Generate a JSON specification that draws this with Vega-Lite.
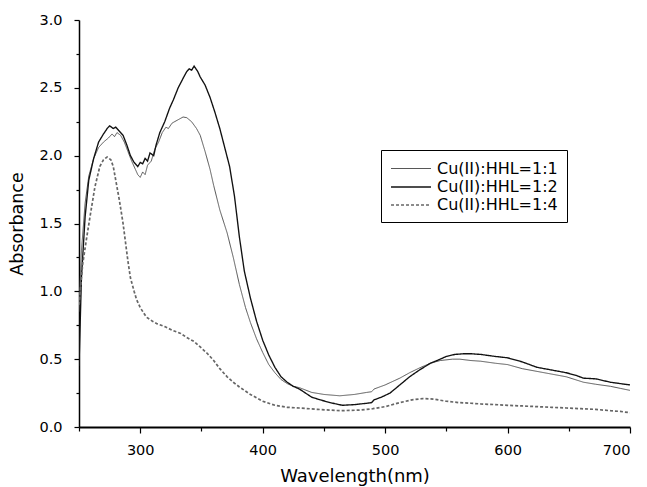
{
  "$schema": "https://vega.github.io/schema/vega-lite/v6.json",
  "width": 551,
  "height": 407,
  "autosize": "none",
  "padding": {"left": 79, "top": 20, "right": 17, "bottom": 60},
  "background": "white",
  "config": {
    "view": {"stroke": null},
    "axis": {
      "grid": false,
      "domainColor": "black",
      "domainWidth": 1.5,
      "tickColor": "black",
      "tickWidth": 1.2,
      "labelFont": "DejaVu Sans",
      "labelFontSize": 14.5,
      "labelColor": "black",
      "titleFont": "DejaVu Sans",
      "titleFontSize": 17.5,
      "titleFontWeight": "normal",
      "titleColor": "black"
    },
    "legend": {
      "orient": "none",
      "legendX": 302,
      "legendY": 130,
      "fillColor": "white",
      "strokeColor": "black",
      "padding": 9,
      "symbolType": "M-2.22,0H2.22",
      "symbolSize": 324,
      "symbolOffset": 11,
      "labelFont": "DejaVu Sans",
      "labelFontSize": 16,
      "labelColor": "black",
      "labelLimit": 300,
      "labelOffset": 16,
      "rowPadding": 0
    }
  },
  "data": {
    "values": [
      {"series": "Cu(II):HHL=1:1", "wl": 250, "abs": 0.85},
      {"series": "Cu(II):HHL=1:1", "wl": 252, "abs": 1.3},
      {"series": "Cu(II):HHL=1:1", "wl": 255, "abs": 1.65},
      {"series": "Cu(II):HHL=1:1", "wl": 258, "abs": 1.85},
      {"series": "Cu(II):HHL=1:1", "wl": 262, "abs": 1.98},
      {"series": "Cu(II):HHL=1:1", "wl": 266, "abs": 2.06},
      {"series": "Cu(II):HHL=1:1", "wl": 270, "abs": 2.1},
      {"series": "Cu(II):HHL=1:1", "wl": 274, "abs": 2.13},
      {"series": "Cu(II):HHL=1:1", "wl": 277, "abs": 2.16},
      {"series": "Cu(II):HHL=1:1", "wl": 279, "abs": 2.14},
      {"series": "Cu(II):HHL=1:1", "wl": 281, "abs": 2.17},
      {"series": "Cu(II):HHL=1:1", "wl": 284, "abs": 2.15},
      {"series": "Cu(II):HHL=1:1", "wl": 287, "abs": 2.1},
      {"series": "Cu(II):HHL=1:1", "wl": 290, "abs": 2.03},
      {"series": "Cu(II):HHL=1:1", "wl": 293, "abs": 1.96},
      {"series": "Cu(II):HHL=1:1", "wl": 296, "abs": 1.9},
      {"series": "Cu(II):HHL=1:1", "wl": 298, "abs": 1.86},
      {"series": "Cu(II):HHL=1:1", "wl": 300, "abs": 1.84},
      {"series": "Cu(II):HHL=1:1", "wl": 302, "abs": 1.88},
      {"series": "Cu(II):HHL=1:1", "wl": 304, "abs": 1.86},
      {"series": "Cu(II):HHL=1:1", "wl": 306, "abs": 1.93},
      {"series": "Cu(II):HHL=1:1", "wl": 309, "abs": 1.96},
      {"series": "Cu(II):HHL=1:1", "wl": 312, "abs": 2.05},
      {"series": "Cu(II):HHL=1:1", "wl": 315, "abs": 2.1},
      {"series": "Cu(II):HHL=1:1", "wl": 318, "abs": 2.17},
      {"series": "Cu(II):HHL=1:1", "wl": 321, "abs": 2.21},
      {"series": "Cu(II):HHL=1:1", "wl": 323, "abs": 2.2},
      {"series": "Cu(II):HHL=1:1", "wl": 326, "abs": 2.24},
      {"series": "Cu(II):HHL=1:1", "wl": 330, "abs": 2.26},
      {"series": "Cu(II):HHL=1:1", "wl": 335, "abs": 2.285},
      {"series": "Cu(II):HHL=1:1", "wl": 338, "abs": 2.28},
      {"series": "Cu(II):HHL=1:1", "wl": 342, "abs": 2.25},
      {"series": "Cu(II):HHL=1:1", "wl": 346, "abs": 2.2},
      {"series": "Cu(II):HHL=1:1", "wl": 349, "abs": 2.15},
      {"series": "Cu(II):HHL=1:1", "wl": 353, "abs": 2.03},
      {"series": "Cu(II):HHL=1:1", "wl": 357, "abs": 1.9},
      {"series": "Cu(II):HHL=1:1", "wl": 360, "abs": 1.78},
      {"series": "Cu(II):HHL=1:1", "wl": 365, "abs": 1.6},
      {"series": "Cu(II):HHL=1:1", "wl": 371, "abs": 1.43},
      {"series": "Cu(II):HHL=1:1", "wl": 376, "abs": 1.25},
      {"series": "Cu(II):HHL=1:1", "wl": 381, "abs": 1.05},
      {"series": "Cu(II):HHL=1:1", "wl": 386, "abs": 0.88},
      {"series": "Cu(II):HHL=1:1", "wl": 390, "abs": 0.77},
      {"series": "Cu(II):HHL=1:1", "wl": 395, "abs": 0.65},
      {"series": "Cu(II):HHL=1:1", "wl": 400, "abs": 0.55},
      {"series": "Cu(II):HHL=1:1", "wl": 405, "abs": 0.46},
      {"series": "Cu(II):HHL=1:1", "wl": 410, "abs": 0.4},
      {"series": "Cu(II):HHL=1:1", "wl": 415, "abs": 0.35},
      {"series": "Cu(II):HHL=1:1", "wl": 420, "abs": 0.32},
      {"series": "Cu(II):HHL=1:1", "wl": 425, "abs": 0.3},
      {"series": "Cu(II):HHL=1:1", "wl": 430, "abs": 0.29},
      {"series": "Cu(II):HHL=1:1", "wl": 440, "abs": 0.255},
      {"series": "Cu(II):HHL=1:1", "wl": 450, "abs": 0.24},
      {"series": "Cu(II):HHL=1:1", "wl": 463, "abs": 0.23},
      {"series": "Cu(II):HHL=1:1", "wl": 475, "abs": 0.24},
      {"series": "Cu(II):HHL=1:1", "wl": 485, "abs": 0.255},
      {"series": "Cu(II):HHL=1:1", "wl": 489, "abs": 0.26},
      {"series": "Cu(II):HHL=1:1", "wl": 491, "abs": 0.28},
      {"series": "Cu(II):HHL=1:1", "wl": 500, "abs": 0.31},
      {"series": "Cu(II):HHL=1:1", "wl": 512, "abs": 0.36},
      {"series": "Cu(II):HHL=1:1", "wl": 520, "abs": 0.4},
      {"series": "Cu(II):HHL=1:1", "wl": 528, "abs": 0.435},
      {"series": "Cu(II):HHL=1:1", "wl": 537, "abs": 0.47},
      {"series": "Cu(II):HHL=1:1", "wl": 545, "abs": 0.49},
      {"series": "Cu(II):HHL=1:1", "wl": 555, "abs": 0.5},
      {"series": "Cu(II):HHL=1:1", "wl": 561, "abs": 0.5},
      {"series": "Cu(II):HHL=1:1", "wl": 570, "abs": 0.49},
      {"series": "Cu(II):HHL=1:1", "wl": 578, "abs": 0.485},
      {"series": "Cu(II):HHL=1:1", "wl": 590, "abs": 0.47},
      {"series": "Cu(II):HHL=1:1", "wl": 600, "abs": 0.46},
      {"series": "Cu(II):HHL=1:1", "wl": 612, "abs": 0.43},
      {"series": "Cu(II):HHL=1:1", "wl": 624, "abs": 0.41},
      {"series": "Cu(II):HHL=1:1", "wl": 636, "abs": 0.39},
      {"series": "Cu(II):HHL=1:1", "wl": 648, "abs": 0.37},
      {"series": "Cu(II):HHL=1:1", "wl": 662, "abs": 0.33},
      {"series": "Cu(II):HHL=1:1", "wl": 672, "abs": 0.315},
      {"series": "Cu(II):HHL=1:1", "wl": 684, "abs": 0.3},
      {"series": "Cu(II):HHL=1:1", "wl": 692, "abs": 0.285},
      {"series": "Cu(II):HHL=1:1", "wl": 700, "abs": 0.27},

      {"series": "Cu(II):HHL=1:2", "wl": 250, "abs": 0.45},
      {"series": "Cu(II):HHL=1:2", "wl": 252, "abs": 1.1},
      {"series": "Cu(II):HHL=1:2", "wl": 255, "abs": 1.55},
      {"series": "Cu(II):HHL=1:2", "wl": 258, "abs": 1.82},
      {"series": "Cu(II):HHL=1:2", "wl": 262, "abs": 1.98},
      {"series": "Cu(II):HHL=1:2", "wl": 266, "abs": 2.1},
      {"series": "Cu(II):HHL=1:2", "wl": 270, "abs": 2.16},
      {"series": "Cu(II):HHL=1:2", "wl": 273, "abs": 2.2},
      {"series": "Cu(II):HHL=1:2", "wl": 275, "abs": 2.22},
      {"series": "Cu(II):HHL=1:2", "wl": 278, "abs": 2.2},
      {"series": "Cu(II):HHL=1:2", "wl": 280, "abs": 2.21},
      {"series": "Cu(II):HHL=1:2", "wl": 283, "abs": 2.18},
      {"series": "Cu(II):HHL=1:2", "wl": 286, "abs": 2.15},
      {"series": "Cu(II):HHL=1:2", "wl": 289, "abs": 2.08},
      {"series": "Cu(II):HHL=1:2", "wl": 292, "abs": 2.0},
      {"series": "Cu(II):HHL=1:2", "wl": 295, "abs": 1.95},
      {"series": "Cu(II):HHL=1:2", "wl": 298, "abs": 1.92},
      {"series": "Cu(II):HHL=1:2", "wl": 300, "abs": 1.95},
      {"series": "Cu(II):HHL=1:2", "wl": 302, "abs": 1.94},
      {"series": "Cu(II):HHL=1:2", "wl": 304, "abs": 1.98},
      {"series": "Cu(II):HHL=1:2", "wl": 306, "abs": 1.96},
      {"series": "Cu(II):HHL=1:2", "wl": 308, "abs": 2.02},
      {"series": "Cu(II):HHL=1:2", "wl": 311, "abs": 2.0},
      {"series": "Cu(II):HHL=1:2", "wl": 313, "abs": 2.08},
      {"series": "Cu(II):HHL=1:2", "wl": 316, "abs": 2.17},
      {"series": "Cu(II):HHL=1:2", "wl": 320, "abs": 2.25},
      {"series": "Cu(II):HHL=1:2", "wl": 324, "abs": 2.35},
      {"series": "Cu(II):HHL=1:2", "wl": 327, "abs": 2.41},
      {"series": "Cu(II):HHL=1:2", "wl": 331, "abs": 2.5},
      {"series": "Cu(II):HHL=1:2", "wl": 335, "abs": 2.57},
      {"series": "Cu(II):HHL=1:2", "wl": 338, "abs": 2.62},
      {"series": "Cu(II):HHL=1:2", "wl": 340, "abs": 2.64},
      {"series": "Cu(II):HHL=1:2", "wl": 342, "abs": 2.63},
      {"series": "Cu(II):HHL=1:2", "wl": 344, "abs": 2.66},
      {"series": "Cu(II):HHL=1:2", "wl": 347, "abs": 2.62},
      {"series": "Cu(II):HHL=1:2", "wl": 349, "abs": 2.58},
      {"series": "Cu(II):HHL=1:2", "wl": 353, "abs": 2.52},
      {"series": "Cu(II):HHL=1:2", "wl": 357, "abs": 2.43},
      {"series": "Cu(II):HHL=1:2", "wl": 361, "abs": 2.32},
      {"series": "Cu(II):HHL=1:2", "wl": 365, "abs": 2.2},
      {"series": "Cu(II):HHL=1:2", "wl": 369, "abs": 2.06},
      {"series": "Cu(II):HHL=1:2", "wl": 373, "abs": 1.92},
      {"series": "Cu(II):HHL=1:2", "wl": 377, "abs": 1.7},
      {"series": "Cu(II):HHL=1:2", "wl": 381, "abs": 1.4},
      {"series": "Cu(II):HHL=1:2", "wl": 385, "abs": 1.15},
      {"series": "Cu(II):HHL=1:2", "wl": 390, "abs": 0.95},
      {"series": "Cu(II):HHL=1:2", "wl": 395, "abs": 0.78},
      {"series": "Cu(II):HHL=1:2", "wl": 400, "abs": 0.64},
      {"series": "Cu(II):HHL=1:2", "wl": 405, "abs": 0.53},
      {"series": "Cu(II):HHL=1:2", "wl": 410, "abs": 0.44},
      {"series": "Cu(II):HHL=1:2", "wl": 415, "abs": 0.37},
      {"series": "Cu(II):HHL=1:2", "wl": 420, "abs": 0.33},
      {"series": "Cu(II):HHL=1:2", "wl": 425, "abs": 0.3},
      {"series": "Cu(II):HHL=1:2", "wl": 430, "abs": 0.28},
      {"series": "Cu(II):HHL=1:2", "wl": 440, "abs": 0.22},
      {"series": "Cu(II):HHL=1:2", "wl": 447, "abs": 0.2},
      {"series": "Cu(II):HHL=1:2", "wl": 455, "abs": 0.18},
      {"series": "Cu(II):HHL=1:2", "wl": 465, "abs": 0.16},
      {"series": "Cu(II):HHL=1:2", "wl": 475, "abs": 0.165},
      {"series": "Cu(II):HHL=1:2", "wl": 485, "abs": 0.175},
      {"series": "Cu(II):HHL=1:2", "wl": 489, "abs": 0.18},
      {"series": "Cu(II):HHL=1:2", "wl": 491, "abs": 0.2},
      {"series": "Cu(II):HHL=1:2", "wl": 497, "abs": 0.22},
      {"series": "Cu(II):HHL=1:2", "wl": 504, "abs": 0.25},
      {"series": "Cu(II):HHL=1:2", "wl": 512, "abs": 0.31},
      {"series": "Cu(II):HHL=1:2", "wl": 520, "abs": 0.37},
      {"series": "Cu(II):HHL=1:2", "wl": 528, "abs": 0.42},
      {"series": "Cu(II):HHL=1:2", "wl": 537, "abs": 0.47},
      {"series": "Cu(II):HHL=1:2", "wl": 545, "abs": 0.5},
      {"series": "Cu(II):HHL=1:2", "wl": 550, "abs": 0.52},
      {"series": "Cu(II):HHL=1:2", "wl": 557, "abs": 0.535},
      {"series": "Cu(II):HHL=1:2", "wl": 564, "abs": 0.54},
      {"series": "Cu(II):HHL=1:2", "wl": 570, "abs": 0.54},
      {"series": "Cu(II):HHL=1:2", "wl": 578, "abs": 0.535},
      {"series": "Cu(II):HHL=1:2", "wl": 590, "abs": 0.52},
      {"series": "Cu(II):HHL=1:2", "wl": 600, "abs": 0.51},
      {"series": "Cu(II):HHL=1:2", "wl": 612, "abs": 0.48},
      {"series": "Cu(II):HHL=1:2", "wl": 624, "abs": 0.44},
      {"series": "Cu(II):HHL=1:2", "wl": 636, "abs": 0.42},
      {"series": "Cu(II):HHL=1:2", "wl": 648, "abs": 0.4},
      {"series": "Cu(II):HHL=1:2", "wl": 656, "abs": 0.38},
      {"series": "Cu(II):HHL=1:2", "wl": 662, "abs": 0.36},
      {"series": "Cu(II):HHL=1:2", "wl": 672, "abs": 0.355},
      {"series": "Cu(II):HHL=1:2", "wl": 684, "abs": 0.33},
      {"series": "Cu(II):HHL=1:2", "wl": 692, "abs": 0.32},
      {"series": "Cu(II):HHL=1:2", "wl": 700, "abs": 0.31},

      {"series": "Cu(II):HHL=1:4", "wl": 250, "abs": 0.9},
      {"series": "Cu(II):HHL=1:4", "wl": 253, "abs": 1.2},
      {"series": "Cu(II):HHL=1:4", "wl": 256, "abs": 1.38},
      {"series": "Cu(II):HHL=1:4", "wl": 259, "abs": 1.55},
      {"series": "Cu(II):HHL=1:4", "wl": 263, "abs": 1.77},
      {"series": "Cu(II):HHL=1:4", "wl": 267, "abs": 1.92},
      {"series": "Cu(II):HHL=1:4", "wl": 270, "abs": 1.97},
      {"series": "Cu(II):HHL=1:4", "wl": 273, "abs": 1.99},
      {"series": "Cu(II):HHL=1:4", "wl": 276, "abs": 1.97},
      {"series": "Cu(II):HHL=1:4", "wl": 278, "abs": 1.92},
      {"series": "Cu(II):HHL=1:4", "wl": 280, "abs": 1.82},
      {"series": "Cu(II):HHL=1:4", "wl": 283, "abs": 1.67},
      {"series": "Cu(II):HHL=1:4", "wl": 286, "abs": 1.5},
      {"series": "Cu(II):HHL=1:4", "wl": 288, "abs": 1.36},
      {"series": "Cu(II):HHL=1:4", "wl": 290, "abs": 1.22},
      {"series": "Cu(II):HHL=1:4", "wl": 292, "abs": 1.1},
      {"series": "Cu(II):HHL=1:4", "wl": 295, "abs": 1.0},
      {"series": "Cu(II):HHL=1:4", "wl": 297, "abs": 0.94},
      {"series": "Cu(II):HHL=1:4", "wl": 300, "abs": 0.88},
      {"series": "Cu(II):HHL=1:4", "wl": 305, "abs": 0.81},
      {"series": "Cu(II):HHL=1:4", "wl": 310, "abs": 0.78},
      {"series": "Cu(II):HHL=1:4", "wl": 314, "abs": 0.76},
      {"series": "Cu(II):HHL=1:4", "wl": 320, "abs": 0.74},
      {"series": "Cu(II):HHL=1:4", "wl": 327, "abs": 0.71},
      {"series": "Cu(II):HHL=1:4", "wl": 333, "abs": 0.69},
      {"series": "Cu(II):HHL=1:4", "wl": 338, "abs": 0.66},
      {"series": "Cu(II):HHL=1:4", "wl": 344, "abs": 0.63},
      {"series": "Cu(II):HHL=1:4", "wl": 349, "abs": 0.59},
      {"series": "Cu(II):HHL=1:4", "wl": 355, "abs": 0.54},
      {"series": "Cu(II):HHL=1:4", "wl": 360, "abs": 0.49},
      {"series": "Cu(II):HHL=1:4", "wl": 365, "abs": 0.43},
      {"series": "Cu(II):HHL=1:4", "wl": 371, "abs": 0.37},
      {"series": "Cu(II):HHL=1:4", "wl": 376, "abs": 0.33},
      {"series": "Cu(II):HHL=1:4", "wl": 381, "abs": 0.295},
      {"series": "Cu(II):HHL=1:4", "wl": 390, "abs": 0.24},
      {"series": "Cu(II):HHL=1:4", "wl": 400, "abs": 0.19},
      {"series": "Cu(II):HHL=1:4", "wl": 410, "abs": 0.16},
      {"series": "Cu(II):HHL=1:4", "wl": 420, "abs": 0.145},
      {"series": "Cu(II):HHL=1:4", "wl": 430, "abs": 0.14},
      {"series": "Cu(II):HHL=1:4", "wl": 445, "abs": 0.13},
      {"series": "Cu(II):HHL=1:4", "wl": 463, "abs": 0.12},
      {"series": "Cu(II):HHL=1:4", "wl": 480, "abs": 0.125},
      {"series": "Cu(II):HHL=1:4", "wl": 490, "abs": 0.135},
      {"series": "Cu(II):HHL=1:4", "wl": 500, "abs": 0.15},
      {"series": "Cu(II):HHL=1:4", "wl": 512, "abs": 0.18},
      {"series": "Cu(II):HHL=1:4", "wl": 522, "abs": 0.2},
      {"series": "Cu(II):HHL=1:4", "wl": 531, "abs": 0.21},
      {"series": "Cu(II):HHL=1:4", "wl": 540, "abs": 0.205},
      {"series": "Cu(II):HHL=1:4", "wl": 550, "abs": 0.19},
      {"series": "Cu(II):HHL=1:4", "wl": 560, "abs": 0.18},
      {"series": "Cu(II):HHL=1:4", "wl": 570, "abs": 0.175},
      {"series": "Cu(II):HHL=1:4", "wl": 578, "abs": 0.17},
      {"series": "Cu(II):HHL=1:4", "wl": 590, "abs": 0.165},
      {"series": "Cu(II):HHL=1:4", "wl": 600, "abs": 0.16},
      {"series": "Cu(II):HHL=1:4", "wl": 612, "abs": 0.155},
      {"series": "Cu(II):HHL=1:4", "wl": 624, "abs": 0.15},
      {"series": "Cu(II):HHL=1:4", "wl": 636, "abs": 0.145},
      {"series": "Cu(II):HHL=1:4", "wl": 648, "abs": 0.14},
      {"series": "Cu(II):HHL=1:4", "wl": 660, "abs": 0.135},
      {"series": "Cu(II):HHL=1:4", "wl": 672, "abs": 0.13},
      {"series": "Cu(II):HHL=1:4", "wl": 684, "abs": 0.12},
      {"series": "Cu(II):HHL=1:4", "wl": 692, "abs": 0.115},
      {"series": "Cu(II):HHL=1:4", "wl": 700, "abs": 0.105}
    ]
  },
  "mark": {"type": "line", "interpolate": "linear", "clip": true},
  "encoding": {
    "x": {
      "field": "wl",
      "type": "quantitative",
      "title": "Wavelength(nm)",
      "scale": {"domain": [250, 700], "nice": false, "zero": false},
      "axis": {
        "values": [250, 300, 350, 400, 450, 500, 550, 600, 650, 700],
        "labelExpr": "datum.value % 100 == 0 ? datum.label : ''",
        "format": "d",
        "tickSize": {"condition": {"test": "datum.value % 100 == 0", "value": 6}, "value": 4},
        "labelPadding": 10,
        "titlePadding": 11,
        "titleFontSize": 18,
        "domainWidth": 2
      }
    },
    "y": {
      "field": "abs",
      "type": "quantitative",
      "title": "Absorbance",
      "scale": {"domain": [0, 3], "nice": false},
      "axis": {
        "values": [0, 0.25, 0.5, 0.75, 1, 1.25, 1.5, 1.75, 2, 2.25, 2.5, 2.75, 3],
        "format": ".1f",
        "labelExpr": "datum.value % 0.5 == 0 ? datum.label : ''",
        "tickSize": {"condition": {"test": "datum.value % 0.5 == 0", "value": 5}, "value": 3},
        "labelPadding": 12,
        "titlePadding": 12
      }
    },
    "color": {
      "field": "series",
      "type": "nominal",
      "title": null,
      "scale": {"domain": ["Cu(II):HHL=1:1", "Cu(II):HHL=1:2", "Cu(II):HHL=1:4"], "range": ["#555555", "#111111", "#666666"]}
    },
    "strokeDash": {
      "field": "series",
      "type": "nominal",
      "title": null,
      "scale": {"domain": ["Cu(II):HHL=1:1", "Cu(II):HHL=1:2", "Cu(II):HHL=1:4"], "range": [[1, 0], [1, 0], [3, 2]]}
    },
    "strokeWidth": {
      "field": "series",
      "type": "nominal",
      "title": null,
      "scale": {"domain": ["Cu(II):HHL=1:1", "Cu(II):HHL=1:2", "Cu(II):HHL=1:4"], "range": [1, 1.7, 0.9]}
    }
  }
}
